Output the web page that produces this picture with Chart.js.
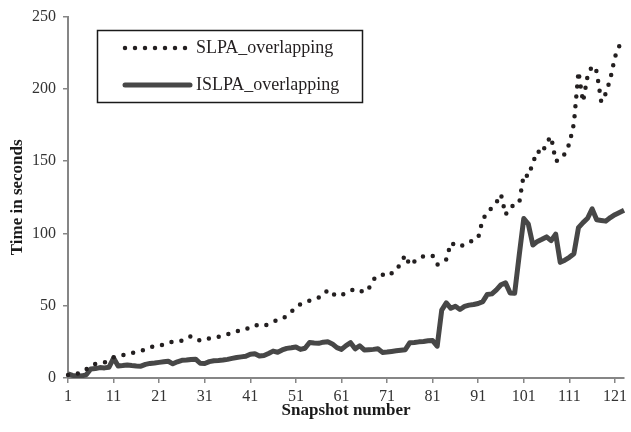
<!DOCTYPE html>
<html>
<head>
<meta charset="utf-8">
<script src="https://cdn.jsdelivr.net/npm/chart.js@4.4.1/dist/chart.umd.min.js"></script>
<style>
  html, body { margin: 0; padding: 0; background: #fff; }
  #wrap { width: 631px; height: 432px; }
</style>
</head>
<body>
<div id="wrap"><canvas id="chart"></canvas></div>
<script>
// Snapshot numbers 1..123 (x categories)
const snapshots = Array.from({ length: 123 }, (_, i) => String(i + 1));
const tickLabels = ['1', '11', '21', '31', '41', '51', '61', '71', '81', '91', '101', '111', '121'];
const yTicks = [0, 50, 100, 150, 200, 250];

// Time in seconds
const slpaTimes = [
  2.0, 2.2, 3.0, 4.0, 6.0, 8.5, 9.8, 10.3, 10.8, 12.2,
  14.3, 15.0, 15.7, 16.6, 17.3, 18.0, 18.8, 19.6, 21.0, 22.2,
  22.6, 23.0, 24.2, 25.2, 25.5, 25.8, 27.5, 29.0, 27.5, 25.8,
  26.6, 27.4, 28.0, 28.5, 29.3, 30.2, 31.2, 32.3, 33.0, 33.6,
  35.5, 36.6, 36.2, 35.9, 37.5, 39.0, 40.0, 41.0, 43.0, 45.8,
  49.0, 51.0, 52.4, 53.5, 54.6, 55.7, 57.0, 61.0, 58.6, 56.6,
  57.5, 58.6, 60.3, 61.6, 60.5, 59.2, 62.0, 68.0, 71.0, 71.6,
  70.4, 72.5, 74.5, 79.5, 85.0, 78.0, 80.5, 82.5, 84.3, 84.3,
  84.5, 78.5, 79.5, 82.0, 93.5, 92.0, 90.7, 92.5, 94.2, 95.2,
  97.0, 110.0, 114.0, 118.0, 121.5, 127.0, 113.0, 118.0, 120.0, 121.0,
  141.0, 139.5, 149.0, 157.0, 155.0, 163.0, 167.0, 150.0, 151.0, 155.0,
  162.0, 176.0, 212.0, 191.0, 209.0, 216.0, 212.0, 191.0, 197.0, 207.0,
  222.0, 230.0, 232.0
];
const islpaTimes = [
  2.8, 1.8, 1.2, 1.5, 2.2, 6.2, 6.5, 7.2, 7.0, 7.5,
  13.8, 8.3, 8.6, 9.0, 8.6, 8.3, 8.2, 9.4, 10.1, 10.4,
  10.8, 11.2, 11.6, 9.8, 11.2, 12.2, 12.4, 12.8, 13.0, 10.2,
  10.0, 11.3, 11.9, 12.1, 12.4, 12.9, 13.6, 14.2, 14.6, 15.0,
  16.5, 16.8, 15.2, 15.6, 17.0, 18.6, 17.8, 19.4, 20.5, 20.9,
  21.4, 19.8, 20.6, 24.6, 24.2, 24.0, 24.8, 25.1, 23.6, 21.0,
  19.8, 22.4, 24.4, 20.2, 22.3, 19.4, 19.6, 19.8, 20.2, 17.7,
  18.0, 18.4, 18.8, 19.2, 19.6, 24.4, 24.6, 25.0, 25.3, 25.7,
  25.9, 22.0, 47.0, 52.0, 48.2, 49.6, 47.4, 49.5, 50.4, 50.8,
  51.5, 52.8, 57.8, 58.2, 61.0, 64.5, 65.8, 58.8, 58.6, 85.0,
  110.3, 106.4, 92.0, 94.5, 96.0, 97.6, 95.0, 99.5, 80.0, 81.5,
  83.5, 86.0, 104.0, 107.5, 110.5, 117.0, 109.5, 109.0, 108.5, 111.0,
  113.0, 114.5, 116.0
];

const serif = "'Liberation Serif', 'Times New Roman', serif";
const axisGray = '#868686';

// Boxed legend inside the plot, drawn by hand
const boxLegend = {
  id: 'boxLegend',
  afterDraw(chart) {
    const ctx = chart.ctx;
    const sets = chart.data.datasets;
    ctx.save();
    ctx.strokeStyle = '#1a1a1a';
    ctx.lineWidth = 1.5;
    ctx.strokeRect(97.5, 30.5, 265, 72);

    const rows = [48, 85];
    sets.forEach((ds, i) => {
      const y = rows[i];
      ctx.beginPath();
      ctx.strokeStyle = ds.borderColor;
      ctx.lineWidth = ds.borderWidth;
      ctx.lineCap = 'round';
      ctx.setLineDash(ds.borderDash || []);
      ctx.moveTo(125, y);
      ctx.lineTo(190, y);
      ctx.stroke();
      ctx.setLineDash([]);
      ctx.fillStyle = '#231f20';
      ctx.font = '18px ' + serif;
      ctx.textBaseline = 'middle';
      ctx.fillText(ds.label, 196, y);
    });
    ctx.restore();
  }
};

new Chart(document.getElementById('chart'), {
  type: 'line',
  data: {
    labels: snapshots,
    datasets: [
      {
        label: 'SLPA_overlapping',
        data: slpaTimes,
        borderColor: '#231f20',
        borderWidth: 4.5,
        borderDash: [0, 10],
        borderCapStyle: 'round',
        pointRadius: 0,
        tension: 0
      },
      {
        label: 'ISLPA_overlapping',
        data: islpaTimes,
        borderColor: '#474747',
        borderWidth: 5,
        borderJoinStyle: 'round',
        pointRadius: 0,
        tension: 0
      }
    ]
  },
  options: {
    responsive: true,
    maintainAspectRatio: false,
    animation: false,
    layout: { padding: { left: 0, top: 16, right: 4, bottom: 7 } },
    plugins: {
      legend: { display: false },
      tooltip: { enabled: false }
    },
    scales: {
      x: {
        type: 'category',
        offset: false,
        grid: { drawOnChartArea: false, tickLength: 5, color: axisGray, lineWidth: 1.5 },
        border: { color: axisGray, width: 2 },
        ticks: {
          autoSkip: false,
          maxRotation: 0,
          padding: 4,
          color: '#333',
          font: { family: serif, size: 16 },
          callback: function (value) {
            const label = this.getLabelForValue(value);
            return tickLabels.includes(label) ? label : null;
          }
        },
        title: {
          display: true,
          text: 'Snapshot number',
          color: '#1a1a1a',
          font: { family: serif, size: 17, weight: 'bold' },
          padding: { top: 4, bottom: 4 }
        },
        afterFit: function (scale) { scale.height = 47; }
      },
      y: {
        min: 0,
        max: 250,
        afterBuildTicks: function (scale) {
          scale.ticks = yTicks.map(v => ({ value: v }));
        },
        grid: { drawOnChartArea: false, tickLength: 5, color: axisGray, lineWidth: 1.5 },
        border: { color: axisGray, width: 2 },
        ticks: {
          padding: 7,
          color: '#333',
          font: { family: serif, size: 16 }
        },
        title: {
          display: true,
          text: 'Time in seconds',
          color: '#1a1a1a',
          font: { family: serif, size: 17, weight: 'bold' },
          padding: { top: 7, bottom: 4 }
        },
        afterFit: function (scale) { scale.width = 68; }
      }
    }
  },
  plugins: [boxLegend]
});
</script>
</body>
</html>
